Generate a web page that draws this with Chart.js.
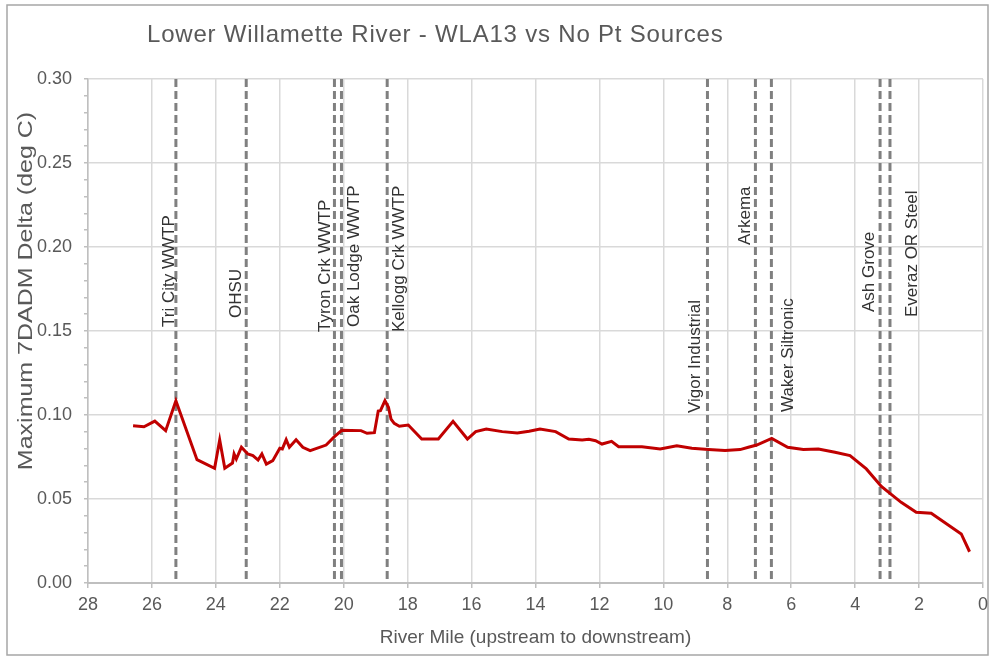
<!DOCTYPE html>
<html>
<head>
<meta charset="utf-8">
<script src="https://cdn.jsdelivr.net/npm/chart.js@4.4.0/dist/chart.umd.min.js"></script>
<style>
  html, body { margin: 0; padding: 0; background: #fff; }
  #wrap { position: relative; width: 990px; height: 658px; }
</style>
</head>
<body>
<div id="wrap"><canvas id="chart" width="990" height="658"></canvas></div>
<script>
// Modeled 7DADM temperature delta along the river (WLA13 minus no point sources)
const riverMile = [
  26.59, 26.25, 25.91, 25.57, 25.25, 24.59, 24.04, 23.88, 23.72, 23.48,
  23.43, 23.36, 23.20, 23.00, 22.84, 22.68, 22.56, 22.42, 22.22, 22.00,
  21.92, 21.80, 21.70, 21.49, 21.28, 21.05, 20.55, 20.29, 20.06, 19.46,
  19.27, 19.04, 18.92, 18.85, 18.71, 18.60, 18.52, 18.42, 18.26, 17.98,
  17.56, 17.04, 16.58, 16.13, 15.87, 15.54, 15.04, 14.57, 14.20, 13.86,
  13.37, 12.96, 12.54, 12.33, 12.12, 11.92, 11.62, 11.40, 10.67, 10.10,
  9.58, 9.11, 8.59, 8.07, 7.60, 7.34, 7.08, 6.61, 6.11, 5.62,
  5.15, 4.63, 4.16, 3.65, 3.18, 2.89, 2.56, 2.09, 1.62, 0.68,
  0.42
];
const tempDelta = [
  0.0936, 0.0930, 0.0964, 0.0907, 0.1085, 0.0734, 0.0683, 0.0851, 0.0683, 0.0714,
  0.0768, 0.0738, 0.0808, 0.0768, 0.0758, 0.0732, 0.0768, 0.0708, 0.0728, 0.0802,
  0.0798, 0.0853, 0.0808, 0.0853, 0.0808, 0.0788, 0.0821, 0.0871, 0.0909, 0.0907,
  0.0891, 0.0895, 0.1024, 0.1026, 0.1085, 0.1046, 0.0976, 0.0950, 0.0933, 0.0940,
  0.0857, 0.0857, 0.0962, 0.0857, 0.0901, 0.0917, 0.0901, 0.0893, 0.0903, 0.0917,
  0.0901, 0.0857, 0.0851, 0.0855, 0.0847, 0.0827, 0.0843, 0.0811, 0.0811, 0.0798,
  0.0817, 0.0802, 0.0794, 0.0788, 0.0794, 0.0808, 0.0821, 0.0861, 0.0808, 0.0794,
  0.0798, 0.0778, 0.0758, 0.0679, 0.0575, 0.0530, 0.0480, 0.0421, 0.0415, 0.0292,
  0.0186
];

// Point sources and their river miles
const sourceNames = [
  'Tri City WWTP', 'OHSU', 'Tyron Crk WWTP', 'Oak Lodge WWTP', 'Kellogg Crk WWTP',
  'Vigor Industrial', 'Arkema', 'Waker Siltronic', 'Ash Grove', 'Everaz OR Steel'
];
const sourceMiles = [25.25, 23.05, 20.29, 20.07, 18.64, 8.62, 7.12, 6.62, 3.22, 2.91];

// Axis ticks
const xTickValues = [28, 26, 24, 22, 20, 18, 16, 14, 12, 10, 8, 6, 4, 2, 0];
const yTickLabels = ['0.00', '0.05', '0.10', '0.15', '0.20', '0.25', '0.30'];

// where each source label sits: baseline offset from its line, bottom of text (px)
const labelPlacement = [
  { dx: -2, bottom: 327 }, { dx: -5, bottom: 318 }, { dx: -4, bottom: 332 },
  { dx: 18, bottom: 327 }, { dx: 17, bottom: 332 }, { dx: -7, bottom: 413 },
  { dx: -5, bottom: 245 }, { dx: 22, bottom: 412 }, { dx: -6, bottom: 312 },
  { dx: 27, bottom: 317 }
];

const FONT = "'Liberation Sans', Arial, sans-serif";
const TEXT = '#595959';

const datasets = [{
  data: riverMile.map((m, i) => ({ x: m, y: tempDelta[i] })),
  borderColor: '#c00000',
  borderWidth: 3,
  pointRadius: 0,
  tension: 0,
  order: 0
}];
sourceMiles.forEach(m => {
  datasets.push({
    data: [{ x: m, y: 0.30 }, { x: m, y: 0 }],
    borderColor: '#808080',
    borderWidth: 3,
    borderDash: [8, 4],
    pointRadius: 0,
    order: 1
  });
});

const annotate = {
  id: 'annotate',
  beforeDraw(chart) {
    const ctx = chart.ctx;
    ctx.save();
    ctx.strokeStyle = '#a6a6a6';
    ctx.lineWidth = 1.5;
    ctx.strokeRect(7, 5, 981, 650);
    ctx.restore();
  },
  afterDraw(chart) {
    const ctx = chart.ctx;
    const xs = chart.scales.x;
    const area = chart.chartArea;
    ctx.save();

    ctx.fillStyle = TEXT;
    ctx.font = '24px ' + FONT;
    ctx.letterSpacing = '0.8px';
    ctx.textAlign = 'left';
    ctx.textBaseline = 'alphabetic';
    ctx.fillText('Lower Willamette River - WLA13 vs No Pt Sources', 147, 42);
    ctx.letterSpacing = '0px';

    ctx.font = '19px ' + FONT;
    ctx.textAlign = 'center';
    ctx.fillText('River Mile (upstream to downstream)', (area.left + area.right) / 2, 643);

    // y axis title, slightly stretched along its length
    ctx.save();
    ctx.translate(32, 291);
    ctx.rotate(-Math.PI / 2);
    ctx.scale(1.19, 1);
    ctx.font = '21px ' + FONT;
    ctx.fillText('Maximum 7DADM Delta (deg C)', 0, 0);
    ctx.restore();

    ctx.fillStyle = '#333333';
    ctx.font = '17px ' + FONT;
    ctx.textAlign = 'left';
    sourceNames.forEach((name, i) => {
      const px = xs.getPixelForValue(sourceMiles[i]) + labelPlacement[i].dx;
      ctx.save();
      ctx.translate(px, labelPlacement[i].bottom);
      ctx.rotate(-Math.PI / 2);
      ctx.fillText(name, 0, 0);
      ctx.restore();
    });
    ctx.restore();
  }
};

new Chart(document.getElementById('chart'), {
  type: 'line',
  data: { datasets },
  plugins: [annotate],
  options: {
    responsive: false,
    animation: false,
    layout: { padding: { left: 0, top: 79, right: 7, bottom: 0 } },
    plugins: { legend: { display: false }, tooltip: { enabled: false }, title: { display: false } },
    scales: {
      x: {
        type: 'linear',
        reverse: true,
        min: 0,
        max: 28,
        afterBuildTicks: scale => { scale.ticks = xTickValues.map(v => ({ value: v })); },
        afterFit: scale => {
          scale.height = 75;
          scale.paddingLeft = 0;
          scale.paddingRight = 0;
        },
        grid: { color: '#d9d9d9', lineWidth: 1.5, tickColor: '#bfbfbf', tickLength: 5 },
        border: { color: '#bfbfbf', width: 2 },
        ticks: { color: TEXT, font: { family: FONT, size: 18 }, padding: 6, maxRotation: 0 }
      },
      y: {
        min: 0,
        max: 0.30,
        afterBuildTicks: scale => {
          const t = [];
          for (let k = 0; k <= 30; k++) t.push({ value: k / 100 });
          scale.ticks = t;
        },
        afterFit: scale => { scale.width = 88; },
        grid: {
          color: c => (Math.round(c.tick.value * 100) % 5 === 0 ? '#d9d9d9' : 'rgba(0,0,0,0)'),
          lineWidth: 1.5,
          tickColor: '#bfbfbf',
          tickLength: 4
        },
        border: { color: '#bfbfbf', width: 1.5 },
        ticks: {
          color: TEXT,
          font: { family: FONT, size: 18 },
          padding: 12,
          autoSkip: false,
          callback: v => {
            const k = Math.round(v * 100);
            return k % 5 === 0 ? yTickLabels[k / 5] : '';
          }
        }
      }
    }
  }
});
</script>
</body>
</html>
